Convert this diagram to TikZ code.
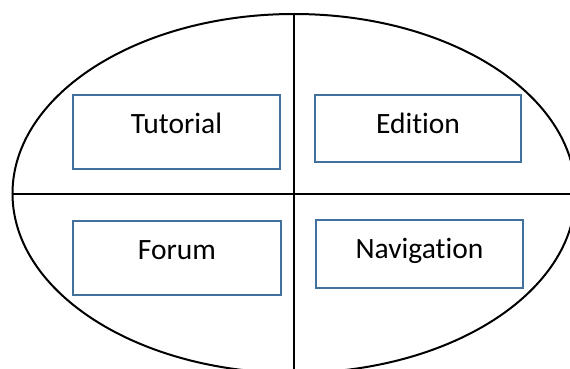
\documentclass[tikz,border=0pt]{standalone}
\usepackage{fontspec}
\setmainfont{Carlito}[Ligatures={NoCommon}]
\usetikzlibrary{shapes.geometric}
\definecolor{boxblue}{RGB}{65,113,156}
\tikzset{
  divider/.style={draw=black, line width=2pt},
  area/.style={draw=black, line width=2pt, ellipse, inner sep=0pt, outer sep=0pt},
  part/.style={draw=boxblue, line width=2pt, rectangle, inner sep=0pt, outer sep=0pt},
  partname/.style={anchor=base, inner sep=0pt, font=\fontsize{29.5pt}{34pt}\selectfont, text=black}
}
\begin{document}
\begin{tikzpicture}[x=1pt, y=-1pt]
  \useasboundingbox (0,0) rectangle (570,369);
  \fill[white] (0,0) rectangle (570,369);
  \clip (0,0) rectangle (570,369);

  % outer oval split into four quadrants
  \node[area, minimum width=563pt, minimum height=359pt] (oval) at (294,193.5) {};
  \draw[divider] (oval.north) -- (oval.south);
  \draw[divider] (oval.west) -- (oval.east);

  % the four parts
  \node[part, minimum width=207pt, minimum height=74pt] (tut) at (176.5,132) {};
  \node[part, minimum width=206pt, minimum height=67pt] (edi) at (418,128.5) {};
  \node[part, minimum width=208pt, minimum height=74pt] (for) at (177,258) {};
  \node[part, minimum width=207pt, minimum height=68pt] (nav) at (419.5,254) {};

  \node[partname, yshift=-38.3pt] (tutl) at (tut.north) {Tutorial};
  \node[partname, yshift=-38.3pt] (edil) at (edi.north) {Edition};
  \node[partname, yshift=-38pt] (forl) at (for.north) {Forum};
  \node[partname, yshift=-38.7pt] (navl) at (nav.north) {Navigation};
\end{tikzpicture}
\end{document}
